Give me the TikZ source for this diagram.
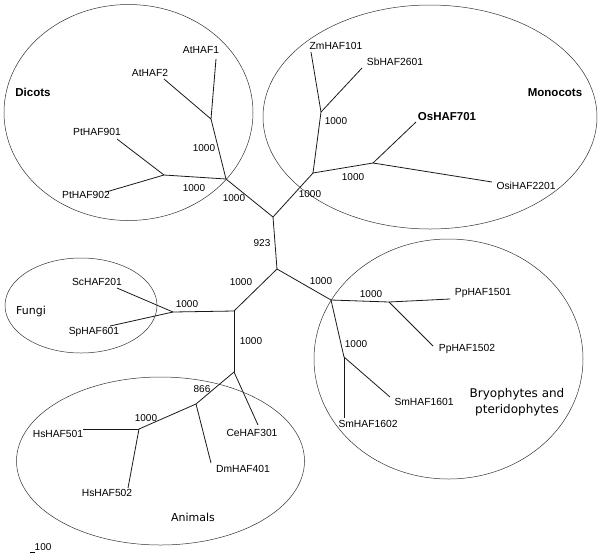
\documentclass[tikz,border=0pt]{standalone}
\usepackage{fontspec}
\setmainfont{Liberation Sans}
\newfontfamily\grpfont{DejaVu Sans}
\begin{document}
\begin{tikzpicture}[x=1pt,y=-1pt,
  br/.style={line width=0.8pt,draw=black!90},
  ell/.style={line width=0.5pt,draw=black!80},
  lab/.style={font=\fontsize{10.3}{11}\selectfont,inner sep=0pt},
  boot/.style={font=\fontsize{10}{11}\selectfont,inner sep=0pt},
  grp/.style={font=\grpfont\fontsize{11}{14.5}\selectfont,inner sep=0pt,align=center},
  grpb/.style={font=\fontsize{11.5}{13}\selectfont\bfseries,inner sep=0pt}]
\useasboundingbox (0,0) rectangle (600,558);
% ellipses
\draw[ell] (128.5,112.5) ellipse [x radius=124.5, y radius=108];
\draw[ell] (430,117) ellipse [x radius=167, y radius=112];
\draw[ell] (81,305.5) ellipse [x radius=76, y radius=47.5];
\draw[ell] (160.5,461) ellipse [x radius=144, y radius=84];
\draw[ell] (448.5,359) ellipse [x radius=134.5, y radius=120];
% internal nodes
\coordinate (X) at (273,217);
\coordinate (Y) at (277,269);
\coordinate (D) at (226,179);
\coordinate (A) at (211,119);
\coordinate (P) at (164,175);
\coordinate (M) at (313,173);
\coordinate (Z) at (321,112);
\coordinate (O) at (373,163);
\coordinate (FA) at (234,311);
\coordinate (F) at (173,312);
\coordinate (An) at (234,372);
\coordinate (N) at (196,404);
\coordinate (H) at (139,429);
\coordinate (B) at (331,300);
\coordinate (Pp) at (389,302);
\coordinate (Sm) at (344,357);
% leaf ends
\coordinate (lAt1) at (216,59);
\coordinate (lAt2) at (164,79);
\coordinate (lPt901) at (117,139);
\coordinate (lPt902) at (106,192);
\coordinate (lZm) at (311,52);
\coordinate (lSb) at (362,68);
\coordinate (lOs) at (416,122);
\coordinate (lOsi) at (492,182);
\coordinate (lSc) at (117,288);
\coordinate (lSp) at (110,326);
\coordinate (lCe) at (258,425);
\coordinate (lDm) at (211,463);
\coordinate (lHs1) at (83,429);
\coordinate (lHs2) at (128,488);
\coordinate (lPp1) at (450,299);
\coordinate (lPp2) at (433,346);
\coordinate (lSm1) at (390,397);
\coordinate (lSm2) at (344,418);
% branches
\draw[br] (X) -- (Y);
\draw[br] (X) -- (D);
\draw[br] (D) -- (A);
\draw[br] (A) -- (lAt1);
\draw[br] (A) -- (lAt2);
\draw[br] (D) -- (P);
\draw[br] (P) -- (lPt901);
\draw[br] (P) -- (lPt902);
\draw[br] (X) -- (M);
\draw[br] (M) -- (Z);
\draw[br] (Z) -- (lZm);
\draw[br] (Z) -- (lSb);
\draw[br] (M) -- (O);
\draw[br] (O) -- (lOs);
\draw[br] (O) -- (lOsi);
\draw[br] (Y) -- (FA);
\draw[br] (FA) -- (F);
\draw[br] (F) -- (lSc);
\draw[br] (F) -- (lSp);
\draw[br] (FA) -- (An);
\draw[br] (An) -- (N);
\draw[br] (An) -- (lCe);
\draw[br] (N) -- (lDm);
\draw[br] (N) -- (H);
\draw[br] (H) -- (lHs1);
\draw[br] (H) -- (lHs2);
\draw[br] (Y) -- (B);
\draw[br] (B) -- (Pp);
\draw[br] (Pp) -- (lPp1);
\draw[br] (Pp) -- (lPp2);
\draw[br] (B) -- (Sm);
\draw[br] (Sm) -- (lSm1);
\draw[br] (Sm) -- (lSm2);
% leaf labels
\node[lab] (tAt1) at (201,50) {AtHAF1};
\node[lab] (tAt2) at (150,73) {AtHAF2};
\node[lab] (tPt901) at (97,132) {PtHAF901};
\node[lab] (tPt902) at (86,195) {PtHAF902};
\node[lab] (tZm) at (336,46) {ZmHAF101};
\node[lab] (tSb) at (395,62) {SbHAF2601};
\node[lab,font=\fontsize{11.5}{13}\selectfont\bfseries] (tOs) at (447,117) {OsHAF701};
\node[lab] (tOsi) at (526,186) {OsiHAF2201};
\node[lab] (tSc) at (97,282) {ScHAF201};
\node[lab] (tSp) at (94,332) {SpHAF601};
\node[lab] (tCe) at (252,433) {CeHAF301};
\node[lab] (tDm) at (243,469) {DmHAF401};
\node[lab] (tHs1) at (58,434) {HsHAF501};
\node[lab] (tHs2) at (107,493) {HsHAF502};
\node[lab] (tPp1) at (483,293) {PpHAF1501};
\node[lab] (tPp2) at (467,349) {PpHAF1502};
\node[lab] (tSm1) at (424,402) {SmHAF1601};
\node[lab] (tSm2) at (368,424) {SmHAF1602};
% bootstrap values
\node[boot] (b1) at (204,148) {1000};
\node[boot] (b2) at (194,188) {1000};
\node[boot] (b3) at (234,198) {1000};
\node[boot] (b4) at (262,243) {923};
\node[boot] (b5) at (336,121) {1000};
\node[boot] (b6) at (353,177) {1000};
\node[boot] (b7) at (310,194) {1000};
\node[boot] (b8) at (241,282) {1000};
\node[boot] (b9) at (187,304) {1000};
\node[boot] (b10) at (251,341) {1000};
\node[boot] (b11) at (202,389) {866};
\node[boot] (b12) at (146,418) {1000};
\node[boot] (b13) at (321,281) {1000};
\node[boot] (b14) at (371,294) {1000};
\node[boot] (b15) at (356,344) {1000};
% group labels
\node[grpb] (gDic) at (33,92) {Dicots};
\node[grpb] (gMon) at (555,93) {Monocots};
\node[grp] (gFun) at (31,311) {Fungi};
\node[grp] (gAni) at (193,517) {Animals};
\node[grp,font=\grpfont\fontsize{12}{15.5}\selectfont] (gBry) at (517,402) {Bryophytes and\\pteridophytes};
% scale bar
\node[boot,anchor=west] (sc) at (34.5,547) {100};
\coordinate (s0) at (30,552);
\coordinate (s1) at (35,552);
\draw[line width=0.5pt] (s0) -- (s1);
\end{tikzpicture}
\end{document}
